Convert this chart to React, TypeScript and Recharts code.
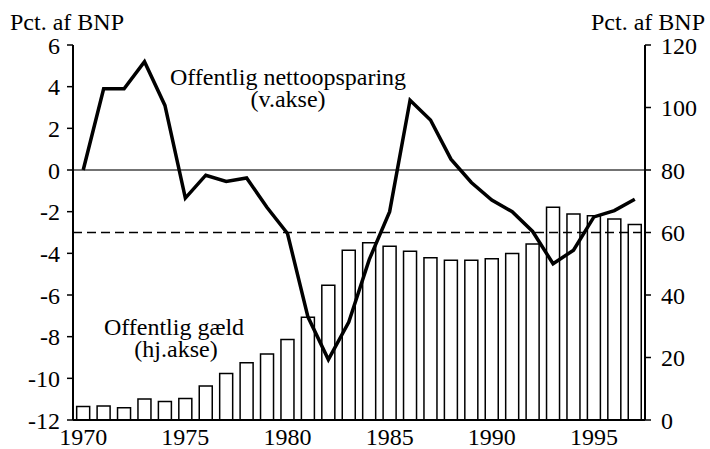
import React from 'react';
import { ComposedChart, Bar, Line, XAxis, YAxis, ReferenceLine } from 'recharts';

const years = [1970, 1971, 1972, 1973, 1974, 1975, 1976, 1977, 1978, 1979, 1980, 1981, 1982, 1983, 1984, 1985, 1986, 1987, 1988, 1989, 1990, 1991, 1992, 1993, 1994, 1995, 1996, 1997];
const surplus = [0, 3.9, 3.9, 5.2, 3.1, -1.35, -0.25, -0.55, -0.38, -1.8, -3.05, -7.05, -9.1, -7.3, -4.3, -2.0, 3.35, 2.4, 0.52, -0.6, -1.44, -2.0, -2.95, -4.5, -3.85, -2.25, -1.95, -1.4];
const debt = [4.3, 4.5, 3.9, 6.7, 5.9, 6.9, 10.9, 14.9, 18.3, 21.1, 25.8, 32.9, 43.1, 54.3, 56.7, 55.6, 54.0, 51.9, 51.1, 51.1, 51.6, 53.3, 56.3, 68.1, 65.9, 65.4, 64.3, 62.6];
const leftTicks = [-12, -10, -8, -6, -4, -2, 0, 2, 4, 6];
const rightTicks = [0, 20, 40, 60, 80, 100, 120];
const boundaryTicks = [...years.map((y) => y - 0.5), years[years.length - 1] + 0.5];
const markerYear = 1994.5;
const markerBarValue = debt[25];
const limitLine = -3;

const data = years.map((y, i) => ({ year: y, surplus: surplus[i], debt: debt[i] }));

const FONT = 'Liberation Serif';

const makeTick = (anchor: string, dy: string) => (props: any) => {
  const { x, y, payload } = props;
  return (
    <text x={x} y={y} dy={dy} textAnchor={anchor} fontFamily={FONT} fontSize={24} fill="#000">
      {payload.value}
    </text>
  );
};

const Label = ({ x, y, anchor, children }: any) => (
  <text x={x} y={y} textAnchor={anchor} fontFamily={FONT} fontSize={24} fill="#000">
    {children}
  </text>
);

export default function App() {
  return (
    <div style={{ position: 'absolute', left: 0, top: 0, width: 710, height: 449, background: '#fff' }}>
      <ComposedChart
        width={710}
        height={449}
        data={data}
        margin={{ top: 45, right: 0, bottom: 0, left: 0 }}
        barCategoryGap="18%"
      >
        <XAxis
          xAxisId="num"
          type="number"
          domain={[boundaryTicks[0], boundaryTicks[boundaryTicks.length - 1]]}
          ticks={boundaryTicks}
          tick={() => null}
          height={0}
          axisLine={false}
          tickSize={5}
          tickLine={{ stroke: '#000', strokeWidth: 1.5 }}
          allowDataOverflow
        />
        <XAxis
          dataKey="year"
          type="category"
          interval={4}
          height={29}
          tickLine={false}
          tickSize={5}
          tickMargin={3}
          axisLine={{ stroke: '#000', strokeWidth: 2 }}
          tick={makeTick('middle', '0.71em')}
        />
        <YAxis
          yAxisId="left"
          domain={[-12, 6]}
          ticks={leftTicks}
          width={73}
          tickSize={6}
          tickMargin={7}
          axisLine={{ stroke: '#000', strokeWidth: 2 }}
          tickLine={{ stroke: '#000', strokeWidth: 1.5 }}
          tick={makeTick('end', '0.355em')}
          allowDataOverflow
        />
        <YAxis
          yAxisId="right"
          orientation="right"
          domain={[0, 120]}
          ticks={rightTicks}
          width={65}
          tickSize={6}
          tickMargin={10}
          axisLine={{ stroke: '#000', strokeWidth: 2 }}
          tickLine={{ stroke: '#000', strokeWidth: 1.5 }}
          tick={makeTick('start', '0.355em')}
          allowDataOverflow
        />
        <Bar
          yAxisId="right"
          dataKey="debt"
          fill="#fff"
          stroke="#000"
          strokeWidth={1.5}
          isAnimationActive={false}
        />
        <ReferenceLine yAxisId="left" y={0} stroke="#444" strokeWidth={1.5} />
        <ReferenceLine yAxisId="left" y={limitLine} stroke="#000" strokeWidth={1.5} strokeDasharray="9 5" />
        <ReferenceLine xAxisId="num" yAxisId="left" x={markerYear} stroke="#000" strokeWidth={1.5} />
        <ReferenceLine
          xAxisId="num"
          yAxisId="right"
          segment={[{ x: markerYear, y: 0 }, { x: markerYear, y: markerBarValue }]}
          stroke="#000"
          strokeWidth={4}
        />
        <Line
          yAxisId="left"
          type="linear"
          dataKey="surplus"
          stroke="#000"
          strokeWidth={3.5}
          dot={false}
          activeDot={false}
          isAnimationActive={false}
        />
      </ComposedChart>
      <svg width={710} height={449} style={{ position: 'absolute', left: 0, top: 0, pointerEvents: 'none' }}>
        <Label x={10} y={30} anchor="start">Pct. af BNP</Label>
        <Label x={705} y={30} anchor="end">Pct. af BNP</Label>
        <Label x={288} y={85} anchor="middle">Offentlig nettoopsparing</Label>
        <Label x={288} y={107} anchor="middle">(v.akse)</Label>
        <Label x={174} y={335} anchor="middle">Offentlig gæld</Label>
        <Label x={176} y={357} anchor="middle">(hj.akse)</Label>
      </svg>
    </div>
  );
}
